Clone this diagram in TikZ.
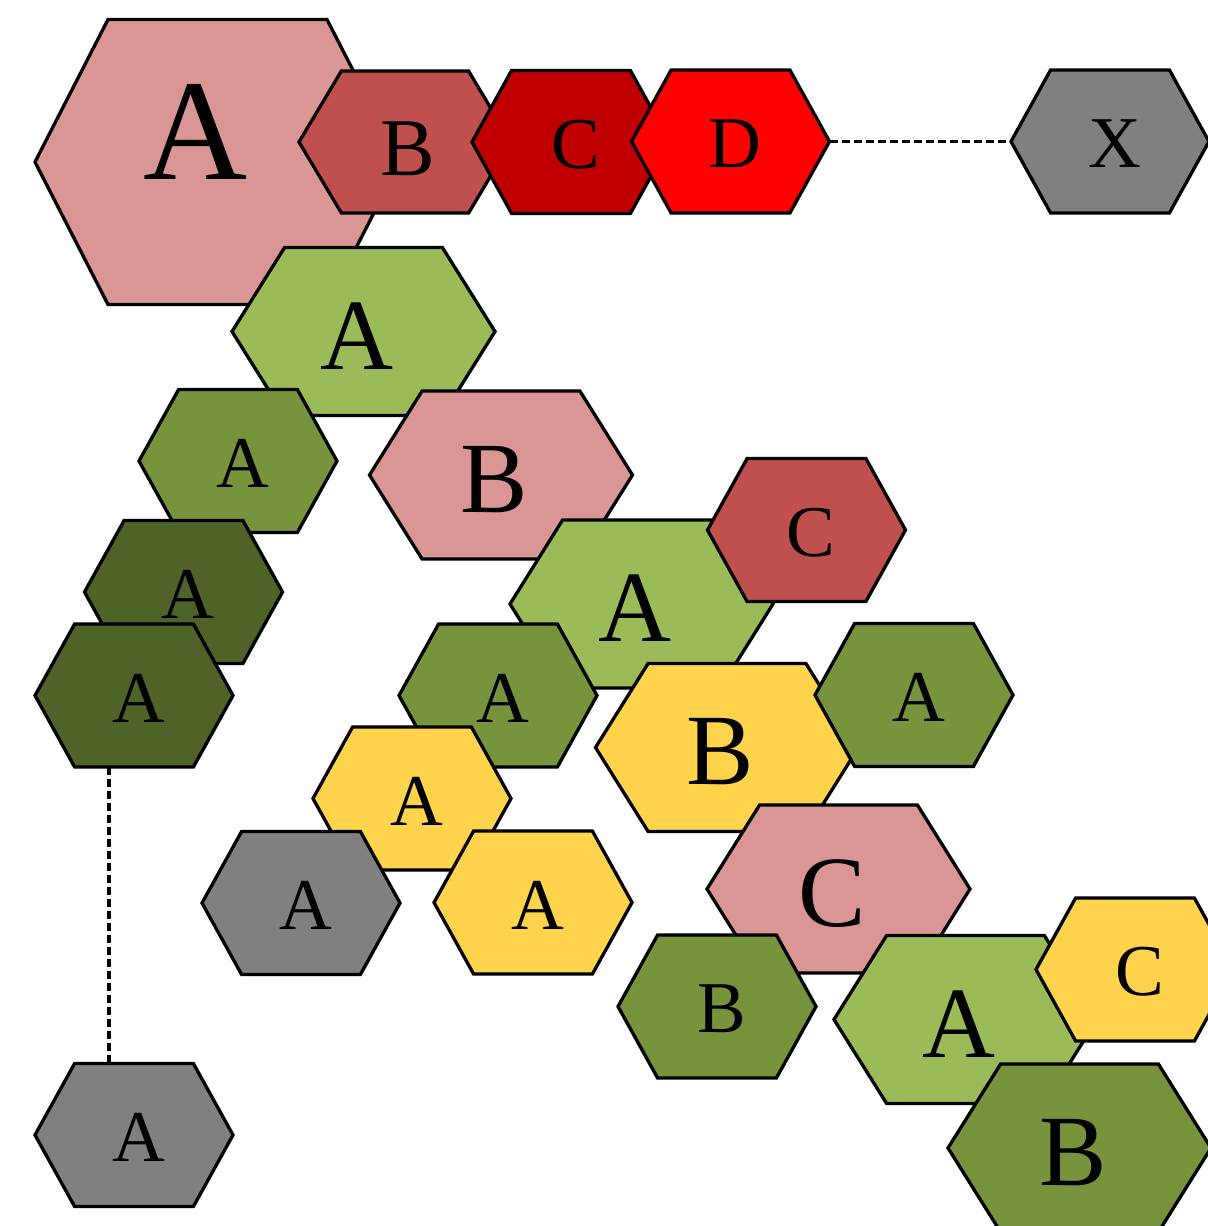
\documentclass[tikz,border=0pt]{standalone}
\usepackage{fontspec}
\setmainfont{Liberation Serif}
\usepackage{xcolor}
\usepackage{tikz}
\usetikzlibrary{calc}

\definecolor{hxPink}{HTML}{D99694}
\definecolor{hxBrick}{HTML}{C0504D}
\definecolor{hxMaroon}{HTML}{C00000}
\definecolor{hxRed}{HTML}{FF0000}
\definecolor{hxGray}{HTML}{808080}
\definecolor{hxLime}{HTML}{9BBB59}
\definecolor{hxOlive}{HTML}{77933C}
\definecolor{hxForest}{HTML}{4F6228}
\definecolor{hxGold}{HTML}{FFD34B}

\tikzset{
  cell/.style={draw=black, line width=1.65pt, line join=miter},
  link/.style={draw=black, line width=1.6pt, dash pattern=on 4pt off 2pt},
  hexbox/.style={inner sep=0pt, outer sep=0pt},
  hex S/.style={hexbox, minimum width=99pt, minimum height=71.5pt},
  hex W/.style={hexbox, minimum width=106pt, minimum height=71pt},
  hex M/.style={hexbox, minimum width=131.5pt, minimum height=84pt},
  hex L/.style={hexbox, minimum width=182.5pt, minimum height=142.5pt},
  txt S/.style={font=\fontsize{36.5pt}{40pt}\selectfont, xshift=2.25pt, yshift=-1.25pt},
  txt W/.style={font=\fontsize{41pt}{44pt}\selectfont, xshift=1.25pt, yshift=-3.5pt},
  txt M/.style={font=\fontsize{50.5pt}{55pt}\selectfont, xshift=-3.25pt, yshift=-2.25pt},
  txt L/.style={font=\fontsize{72pt}{78pt}\selectfont, xshift=-11.25pt, yshift=15.25pt},
}

% #1 size, #2 name, #3 centre, #4 fill, #5 letter
\newcommand{\hexcell}[5]{%
  \node[hex #1] (#2) at (#3) {};
  \filldraw[cell, fill=#4] (#2.west)
    -- ($(#2.north west)!.2!(#2.north east)$) -- ($(#2.north west)!.8!(#2.north east)$)
    -- (#2.east)
    -- ($(#2.south west)!.8!(#2.south east)$) -- ($(#2.south west)!.2!(#2.south east)$)
    -- cycle;
  \node[txt #1] (#2t) at (#2) {#5};
}

\begin{document}
\begin{tikzpicture}[x=0.5pt, y=-0.5pt]
\useasboundingbox (0,0) rectangle (1208,1226);

% top row
\hexcell{L}{a0}{217.5,162}{hxPink}{A}
\hexcell{W}{b0}{405,142}{hxBrick}{B}
\hexcell{S}{c0}{571,142}{hxMaroon}{C}
\hexcell{S}{d0}{730.5,141.5}{hxRed}{D}
\hexcell{S}{x0}{1110,141.5}{hxGray}{X}

% middle
\hexcell{M}{a1}{363.5,331.5}{hxLime}{A}
\hexcell{S}{a2}{238,461}{hxOlive}{A}
\hexcell{M}{b1}{501,475}{hxPink}{B}
\hexcell{S}{a3}{183.5,592}{hxForest}{A}
\hexcell{S}{a4}{134,695.5}{hxForest}{A}
\hexcell{S}{a5}{134,1135}{hxGray}{A}
\hexcell{M}{a6}{641.5,604}{hxLime}{A}
\hexcell{S}{c1}{806.5,530}{hxBrick}{C}
\hexcell{S}{a7}{498,695.5}{hxOlive}{A}
\hexcell{M}{b2}{727,747.5}{hxGold}{B}
\hexcell{S}{a8}{914,695}{hxOlive}{A}
\hexcell{S}{a9}{412,798.5}{hxGold}{A}
\hexcell{S}{a10}{301,903}{hxGray}{A}
\hexcell{S}{a11}{533,902.5}{hxGold}{A}

% bottom right
\hexcell{M}{c2}{838.5,889}{hxPink}{C}
\hexcell{S}{b3}{717,1006.5}{hxOlive}{B}
\hexcell{M}{a12}{965.5,1019.5}{hxLime}{A}
\hexcell{S}{c3}{1135,969.5}{hxGold}{C}
\hexcell{M}{b4}{1079.5,1148}{hxOlive}{B}

\draw[link] (d0.east) -- (x0.west);
\draw[link] ([xshift=-12.5pt]a4.south) -- ([xshift=-12.5pt]a5.north);

\end{tikzpicture}
\end{document}
